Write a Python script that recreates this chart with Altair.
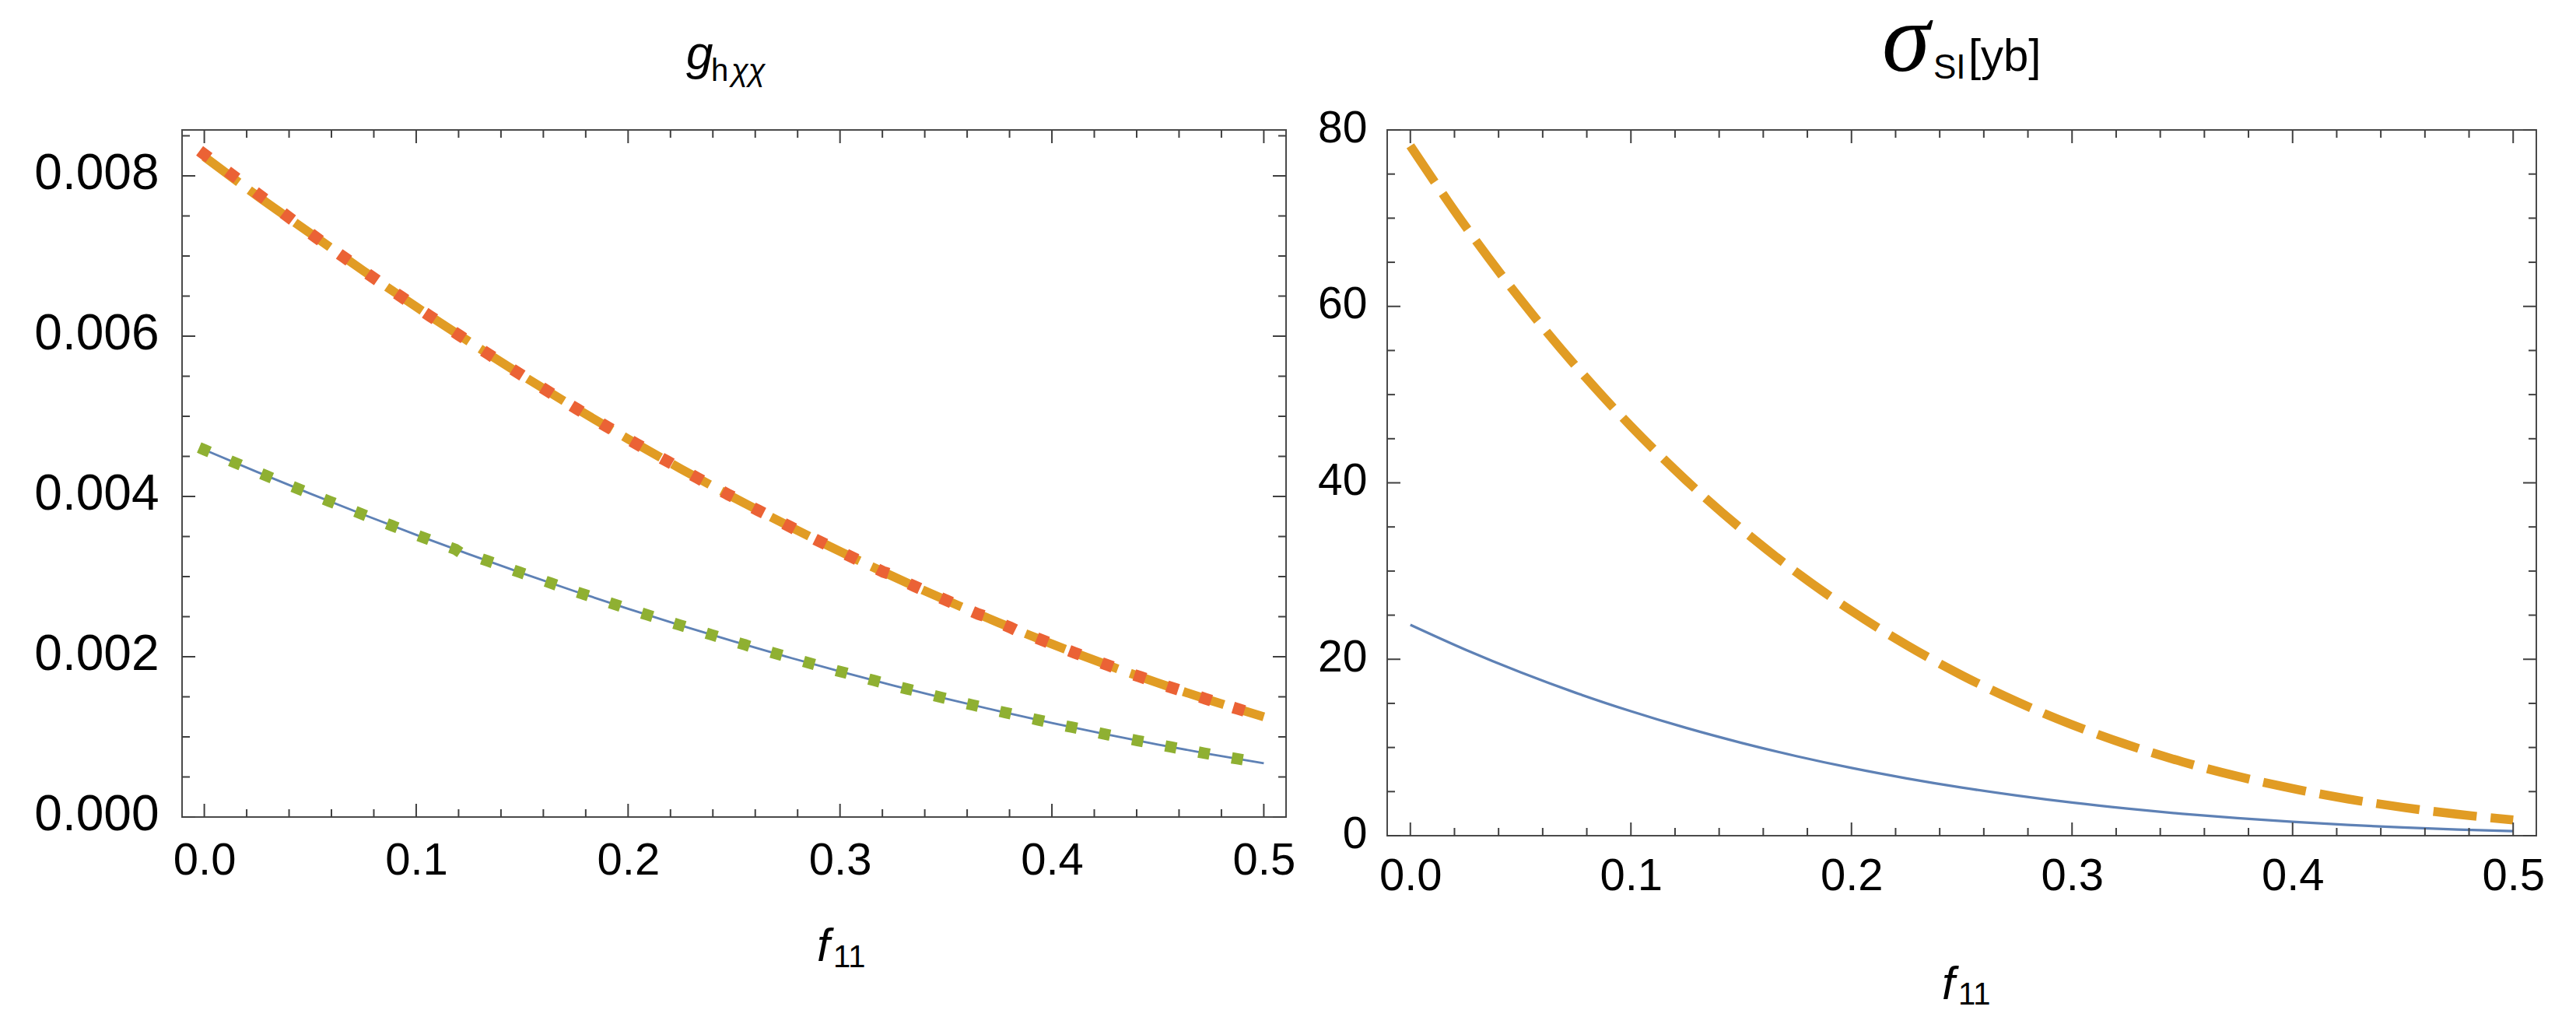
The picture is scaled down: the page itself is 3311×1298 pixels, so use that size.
import altair as alt
import pandas as pd

# ---------------- data ----------------
F11 = [0.0, 0.025, 0.05, 0.075, 0.1, 0.125, 0.15, 0.175, 0.2, 0.225, 0.25,
       0.275, 0.3, 0.325, 0.35, 0.375, 0.4, 0.425, 0.45, 0.475, 0.5]

# left panel: g_h chi chi
G_BLUE = [0.004583, 0.004305, 0.004035, 0.003774, 0.003521, 0.003278, 0.003043,
          0.002816, 0.002599, 0.00239, 0.00219, 0.001999, 0.001816, 0.001643,
          0.001478, 0.001321, 0.001174, 0.001035, 0.000905, 0.000783, 0.000671]
G_ORANGE = [0.00824, 0.00775, 0.007284, 0.006817, 0.006366, 0.005931, 0.005511,
            0.005106, 0.004717, 0.004343, 0.003985, 0.003642, 0.003314, 0.003002,
            0.002706, 0.002424, 0.002159, 0.001908, 0.001673, 0.001454, 0.00125]
G_GREEN = [0.004583, 0.004305, 0.004035, 0.003774, 0.003521, 0.003278, 0.003043,
           0.002816, 0.002599, 0.00239, 0.00219, 0.001999, 0.001816, 0.001643,
           0.001478, 0.001321, 0.001174, 0.001035, 0.000905, 0.000783, 0.000671]
G_RED = [0.00827, 0.00778, 0.007284, 0.006817, 0.006366, 0.005931, 0.005511,
         0.005106, 0.004717, 0.004343, 0.003985, 0.003642, 0.003314, 0.003002,
         0.002706, 0.002424, 0.002159, 0.001908, 0.001673, 0.001454, 0.00125]

# right panel: sigma_SI [yb]
SIG_BLUE = [23.9, 21.08, 18.52, 16.20, 14.11, 12.22, 10.53, 9.02, 7.68, 6.50, 5.46,
            4.55, 3.75, 3.07, 2.48, 1.99, 1.57, 1.22, 0.93, 0.70, 0.51]
SIG_ORANGE = [78.2, 69.07, 60.77, 53.23, 46.42, 40.29, 34.79, 29.86, 25.49, 21.61,
              18.19, 15.19, 12.58, 10.32, 8.38, 6.73, 5.34, 4.17, 3.21, 2.42, 1.79]

# ticks / labels
X_DOMAIN = [-0.0105, 0.5105]
X_MAJOR = [0.0, 0.1, 0.2, 0.3, 0.4, 0.5]
X_MINOR = [0.02, 0.04, 0.06, 0.08, 0.12, 0.14, 0.16, 0.18, 0.22, 0.24, 0.26, 0.28,
           0.32, 0.34, 0.36, 0.38, 0.42, 0.44, 0.46, 0.48]
G_MAJOR = [0.0, 0.002, 0.004, 0.006, 0.008]
G_MINOR = [0.0005, 0.001, 0.0015, 0.0025, 0.003, 0.0035, 0.0045, 0.005, 0.0055,
           0.0065, 0.007, 0.0075, 0.0085]
S_MAJOR = [0, 20, 40, 60, 80]
S_MINOR = [5, 10, 15, 25, 30, 35, 45, 50, 55, 65, 70, 75]

BLUE = "#5E81B5"
ORANGE = "#E19C24"
GREEN = "#8FB032"
RED = "#EB6235"
TICK = "#404040"
FRAME = "#4a4a4a"
FONT = "Liberation Sans"
SERIF = "Liberation Serif"

ONE = pd.DataFrame({"k": [0]})


def make_panel(width, height, y_domain, series, y_major, y_minor, y_format,
               y_label_size, y_label_pad, y_label_offset, x_label_pad, texts):
    xs = alt.Scale(domain=X_DOMAIN, nice=False, zero=False)
    ys = alt.Scale(domain=y_domain, nice=False, zero=False)
    x_axis = alt.Axis(values=X_MAJOR, format=".1f", title=None, ticks=False, tickSize=0,
                      domain=False, grid=False, labelFont=FONT, labelFontSize=58,
                      labelPadding=x_label_pad, labelColor="black", labelFlush=False,
                      labelOverlap=False)
    y_axis = alt.Axis(values=y_major, format=y_format, title=None, ticks=False, tickSize=0,
                      domain=False, grid=False, labelFont=FONT, labelFontSize=y_label_size,
                      labelPadding=y_label_pad, labelOffset=y_label_offset,
                      labelColor="black", labelFlush=False, labelOverlap=False)
    layers = []
    for vals, color, sw, dash, cap in series:
        df = pd.DataFrame({"f11": F11, "val": vals})
        mk = dict(color=color, strokeWidth=sw, strokeCap=cap, interpolate="monotone")
        if dash is not None:
            mk["strokeDash"] = dash
        layers.append(alt.Chart(df).mark_line(**mk).encode(
            x=alt.X("f11:Q", scale=xs, axis=x_axis),
            y=alt.Y("val:Q", scale=ys, axis=y_axis)))
    # inward frame ticks on all four sides
    for vals, length in ((X_MAJOR, 17), (X_MINOR, 10)):
        df = pd.DataFrame({"t": vals})
        for y0, y1 in ((height, height - length), (0, length)):
            layers.append(alt.Chart(df).mark_rule(color=TICK, strokeWidth=2).encode(
                x=alt.X("t:Q", scale=xs, axis=x_axis), y=alt.value(y0), y2=alt.value(y1)))
    for vals, length in ((y_major, 17), (y_minor, 10)):
        df = pd.DataFrame({"t": vals})
        for x0, x1 in ((0, length), (width, width - length)):
            layers.append(alt.Chart(df).mark_rule(color=TICK, strokeWidth=2).encode(
                y=alt.Y("t:Q", scale=ys, axis=y_axis), x=alt.value(x0), x2=alt.value(x1)))
    for txt, x, y, size, style, font in texts:
        layers.append(alt.Chart(ONE).mark_text(
            align="left", baseline="alphabetic", fontSize=size, fontStyle=style,
            font=font, color="black").encode(
            x=alt.value(x), y=alt.value(y), text=alt.value(txt)))
    return alt.layer(*layers).properties(width=width, height=height)


left = make_panel(
    1419, 883, [0, 0.008573],
    [(G_BLUE, BLUE, 2.8, None, "butt"),
     (G_ORANGE, ORANGE, 11.5, [55, 17], "butt"),
     (G_GREEN, GREEN, 14.5, [0.01, 43.4], "square"),
     (G_RED, RED, 15, [0.01, 44.6], "square")],
    G_MAJOR, G_MINOR, ".3f", 64, 30, -3, 27,
    [("g", 648, -78, 62, "italic", FONT),
     ("h", 680, -63, 40, "normal", FONT),
     ("χχ", 706, -63, 40, "italic", FONT),
     ("f", 816, 1068, 60, "italic", FONT),
     ("11", 837, 1076, 40, "normal", FONT)])

right = make_panel(
    1477, 907, [0, 80],
    [(SIG_BLUE, BLUE, 3.3, None, "butt"),
     (SIG_ORANGE, ORANGE, 11.5, [56, 18], "butt")],
    S_MAJOR, S_MINOR, "d", 57, 26, -2, 23,
    [("σ", 636, -76, 125, "italic", SERIF),
     ("SI", 702, -66, 44, "normal", FONT),
     ("[yb]", 747, -76, 58, "normal", FONT),
     ("f", 713, 1117, 60, "italic", FONT),
     ("11", 734, 1124, 40, "normal", FONT)])

chart = alt.hconcat(left, right, spacing=130, bounds="flush").properties(
    padding={"left": 34, "top": -18, "right": 0, "bottom": 0}
).configure_view(stroke=FRAME, strokeWidth=2)

chart.save("out.html", embed_options={"renderer": "svg", "actions": False})
